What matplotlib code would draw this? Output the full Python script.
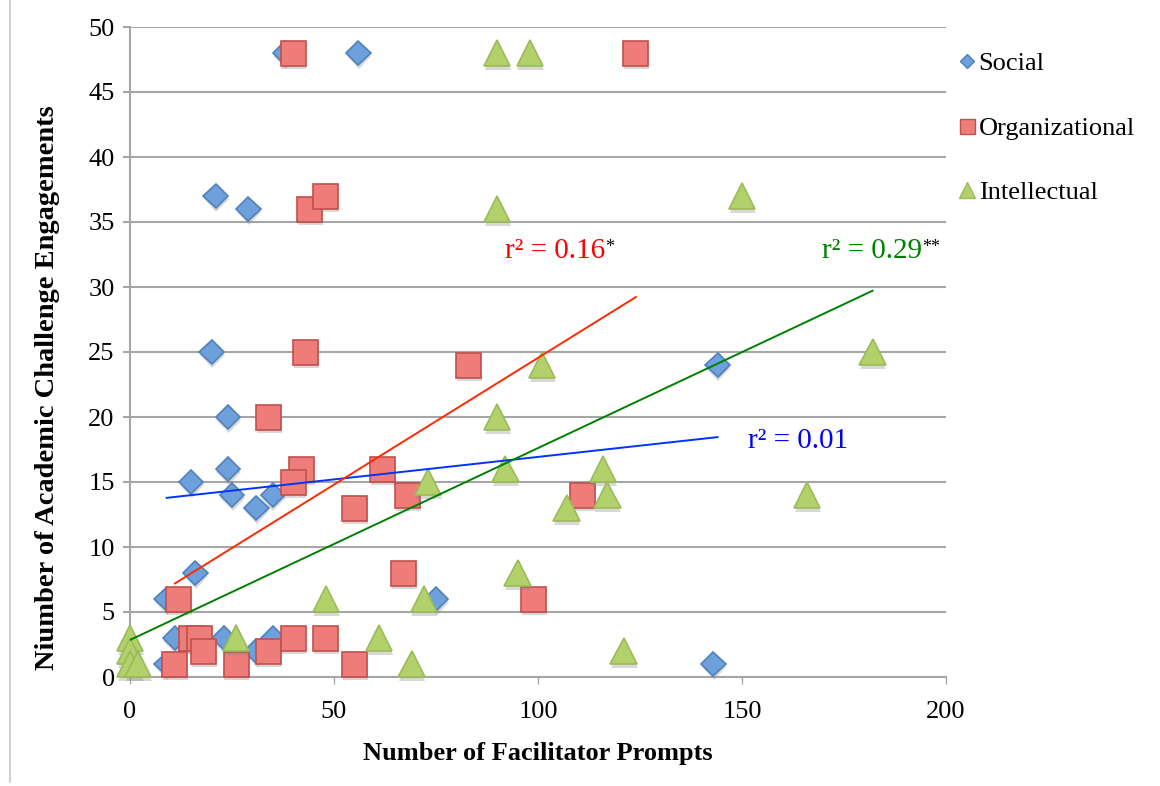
import numpy as np
import matplotlib
matplotlib.use("Agg")
import matplotlib.pyplot as plt
import matplotlib.patheffects as pe
from matplotlib.lines import Line2D

# -------------------------------
# Data
# -------------------------------
social_x = [38, 56, 21, 29, 20, 24, 24, 15, 25, 31, 35, 16, 9, 11, 23, 35, 31, 9, 75, 143, 144]
social_y = [48, 48, 37, 36, 25, 20, 16, 15, 14, 13, 14, 8, 6, 3, 3, 3, 2, 1, 6, 1, 24]

org_x = [40, 124, 44, 48, 43, 83, 34, 42, 40, 62, 68, 55, 111, 99, 67, 12, 15, 17, 18, 11, 26, 34, 40, 48, 55]
org_y = [48, 48, 36, 37, 25, 24, 20, 16, 15, 16, 14, 13, 14, 6, 8, 6, 3, 3, 2, 1, 1, 2, 3, 3, 1]

intel_x = [90, 98, 90, 150, 182, 101, 90, 92, 73, 116, 117, 107, 166, 95, 48, 72, 26, 61, 69, 121, 0, 0, 0, 2]
intel_y = [48, 48, 36, 37, 25, 24, 20, 16, 15, 16, 14, 13, 14, 8, 6, 6, 3, 3, 1, 2, 3, 2, 1, 1]

# linear trend coefficients (slope, intercept) and r^2 labels
trend_social = (0.0346, 13.47)
trend_org = (0.195, 5.05)
trend_intel = (0.1476, 2.85)
r2_labels = ["r\u00b2 = 0.01", "r\u00b2 = 0.16", "r\u00b2 = 0.29"]
r2_stars = ["", "*", "**"]

x_ticks = [0, 50, 100, 150, 200]
y_ticks = list(range(0, 51, 5))

# -------------------------------
# Figure
# -------------------------------
plt.rcParams["font.family"] = ["Liberation Serif", "DejaVu Serif"]

fig = plt.figure(figsize=(11.6, 7.86), dpi=100)
ax = fig.add_axes([130 / 1160, 109 / 786, 816 / 1160, 650 / 786])

grid_c = "#a6a6a6"
shadow = [pe.SimplePatchShadow(offset=(0.5, -2.5), shadow_rgbFace="#808080", alpha=0.3), pe.Normal()]

series = [
    ("Social", social_x, social_y, "D", 12.5, "#6ea0dc", "#4f81bd", trend_social, "#0033ff"),
    ("Organizational", org_x, org_y, "s", 18, "#ee7d7a", "#c0504d", trend_org, "#ff2a00"),
    ("Intellectual", intel_x, intel_y, "^", 19, "#b3d16b", "#9bbb59", trend_intel, "#008000"),
]

for name, xs, ys, mk, ms, fc, ec, _, _ in series:
    ax.plot(xs, ys, linestyle="none", marker=mk, markersize=ms, markerfacecolor=fc,
            markeredgecolor=ec, markeredgewidth=1.2, clip_on=False, zorder=3,
            path_effects=shadow)

# trend lines over each series' x range
for name, xs, ys, mk, ms, fc, ec, (m, b), lc in series:
    xr = np.array([min(xs), max(xs)])
    ax.plot(xr, m * xr + b, color=lc, linewidth=1.4, zorder=4)

# r^2 annotations
text_pos = [(151.5, 18.15), (91.8, 32.8), (169.5, 32.8)]
text_col = ["#0000ff", "#ff0000", "#008000"]
for (tx, ty), lab, star, col in zip(text_pos, r2_labels, r2_stars, text_col):
    t = ax.text(tx, ty, lab, color=col, fontsize=21, ha="left", va="center", zorder=5)
    if star:
        ax.annotate(star, xy=(1, 0.95), xycoords=t, fontsize=13, color="black",
                    ha="left", va="top")

ax.set_xlim(0, 200)
ax.set_ylim(0, 50)
ax.set_xticks(x_ticks)
ax.set_yticks(y_ticks)
ax.yaxis.grid(True, color=grid_c, linewidth=1.5)
ax.set_axisbelow(True)

for s in ["top", "right"]:
    ax.spines[s].set_visible(False)
for s in ["left", "bottom"]:
    ax.spines[s].set_color(grid_c)
    ax.spines[s].set_linewidth(1.5)

ax.tick_params(axis="y", length=5, width=1.5, color=grid_c, labelsize=19, pad=6)
ax.tick_params(axis="x", length=5, width=1.0, color=grid_c, labelsize=19, pad=12)

ax.set_xlabel("Number of Facilitator Prompts", fontsize=19, fontweight="bold")
ax.set_ylabel("Niumber of Academic Challenge Engagements", fontsize=20.5, fontweight="bold")
ax.xaxis.set_label_coords(0.5, -0.1)
ax.yaxis.set_label_coords(-0.086, 0.445)

# legend
handles = [Line2D([], [], linestyle="none", marker=mk, markersize=ms * 0.6, markerfacecolor=fc,
                  markeredgecolor=ec, markeredgewidth=1.0)
           for name, xs, ys, mk, ms, fc, ec, _, _ in series]
ax.legend(handles, [s[0] for s in series], loc="upper left", bbox_to_anchor=(0.99, 0.99),
          frameon=False, fontsize=19, handlelength=0.8, handletextpad=0.05,
          labelspacing=1.55, borderaxespad=0.3)

# thin chart border on the left
fig.add_artist(Line2D([10 / 1160, 10 / 1160], [0.005, 1.0], color="#c8c8c8", linewidth=1.2))

fig.savefig("out.png", dpi=100)
